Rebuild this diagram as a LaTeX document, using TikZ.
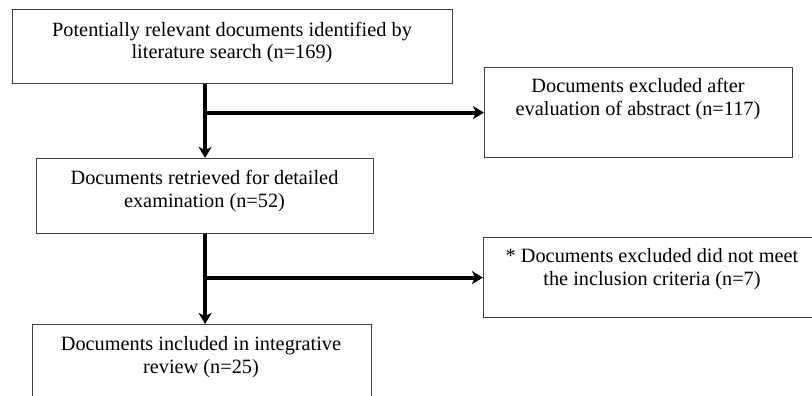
\documentclass[tikz,border=0pt]{standalone}
\usepackage{fontspec}
\setmainfont{Liberation Serif}
\usetikzlibrary{arrows.meta,calc}

\begin{document}
\begin{tikzpicture}[x=1pt,y=-1pt,
  box/.style={draw=black!75, line width=1.2pt, fill=white, inner sep=0pt},
  lbl/.style={inner sep=0pt, align=center, anchor=base,
              font=\fontsize{20.3}{22.5}\selectfont},
  flow/.style={line width=4pt, -{Stealth[length=11pt,width=13pt,inset=3pt]}}]
  \useasboundingbox (0,0) rectangle (812,396);
  \clip (0,0) rectangle (812,396);

  % boxes (placed by their top-left corners)
  \node[box, minimum width=440pt, minimum height=74pt, anchor=north west] (b1) at (12,9) {};
  \node[box, minimum width=308pt, minimum height=90pt, anchor=north west] (b2) at (484,67) {};
  \node[box, minimum width=337pt, minimum height=75pt, anchor=north west] (b3) at (36,158) {};
  \node[box, minimum width=338pt, minimum height=80pt, anchor=north west] (b4) at (483,237) {};
  \node[box, minimum width=339pt, minimum height=100pt, anchor=north west] (b5) at (32,324) {};

  % labels, placed by the baseline of their second line
  \node[lbl] (t1) at (232,59) {Potentially relevant documents identified by\\literature search (n=169)};
  \node[lbl] (t2) at (638,115) {Documents excluded after\\evaluation of abstract (n=117)};
  \node[lbl] (t3) at (204.5,207) {Documents retrieved for detailed\\examination (n=52)};
  \node[lbl] (t4) at (652,285) {* Documents excluded did not meet\\the inclusion criteria (n=7)};
  \node[lbl] (t5) at (201,373) {Documents included in integrative\\review (n=25)};

  % connectors
  \draw[flow] (b1.south -| b3.north) -- (b3.north);
  \draw[flow] (b2.west -| b3.north) -- (b2.west);
  \draw[flow] (b3.south) -- (b3.south |- b5.north);
  \draw[flow] (b4.west -| b3.south) -- (b4.west);
\end{tikzpicture}
\end{document}
